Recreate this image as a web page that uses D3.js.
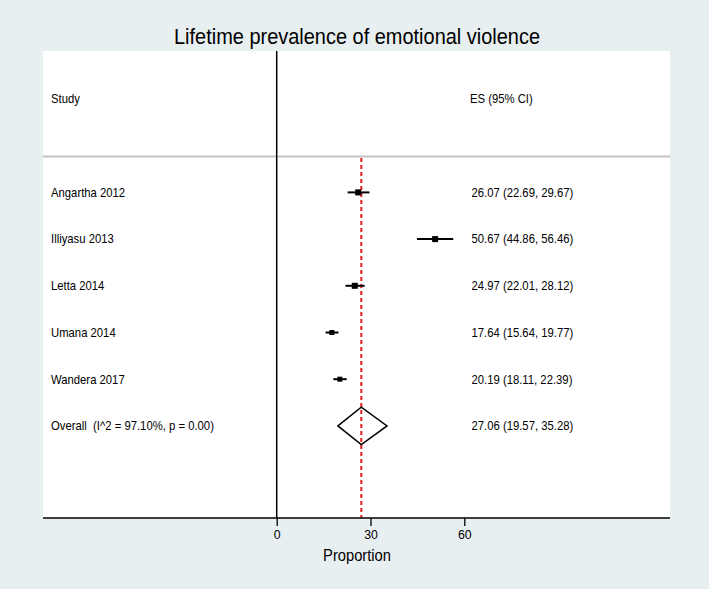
<!DOCTYPE html>
<html><head><meta charset="utf-8">
<script src="https://cdn.jsdelivr.net/npm/d3@7"></script>
<style>
html,body{margin:0;padding:0;background:#e8eff1;}
text{font-family:"Liberation Sans",Arial,Helvetica,sans-serif;fill:#000;white-space:pre;}
</style></head>
<body>
<svg id="chart" width="709" height="589"></svg>
<script>
const title = "Lifetime prevalence of emotional violence";
const studies = ["Angartha 2012","Illiyasu 2013","Letta 2014","Umana 2014","Wandera 2017"];
const es = [26.07, 50.67, 24.97, 17.64, 20.19];
const lo = [22.69, 44.86, 22.01, 15.64, 18.11];
const hi = [29.67, 56.46, 28.12, 19.77, 22.39];
const boxSize = [6, 6, 6, 5, 5];
const overallLabel = "Overall  (I^2 = 97.10%, p = 0.00)";
const overall = {es: 27.06, lo: 19.57, hi: 35.28};
const xTicks = [0, 30, 60];
const xLabel = "Proportion";

const svg = d3.select("#chart");
const W = 709, H = 589;
svg.append("rect").attr("width", W).attr("height", H).attr("fill", "#e8eff1");

const box = {l: 43, r: 670, t: 51, b: 518};
svg.append("rect").attr("x", box.l).attr("y", box.t)
  .attr("width", box.r - box.l).attr("height", box.b - box.t).attr("fill", "#fff");

const x = d3.scaleLinear().domain([0, 60]).range([276.7, 464.3]);
const y = d3.scaleLinear().domain([0, 1]).range([99, 145.7]); // row index -> px
const SX = 0.92;

function txt(str, px, py, size, anchor) {
  return svg.append("text")
    .attr("transform", `translate(${px},${py}) scale(${SX},1)`)
    .attr("dy", "0.35em")
    .attr("font-size", size)
    .attr("text-anchor", anchor || "start")
    .attr("xml:space", "preserve")
    .text(str);
}

// title
svg.append("text").attr("x", 357).attr("y", 44)
  .attr("font-size", 21.5).attr("text-anchor", "middle")
  .attr("textLength", 366).attr("lengthAdjust", "spacingAndGlyphs")
  .text(title);

// header
txt("Study", 51, y(0), 12.3);
txt("ES (95% CI)", 470, y(0), 12.3);
svg.append("line").attr("x1", box.l).attr("x2", box.r)
  .attr("y1", 156.5).attr("y2", 156.5)
  .attr("stroke", "#c4c4c4").attr("stroke-width", 2);

// null line at 0
svg.append("line").attr("x1", x(0)).attr("x2", x(0))
  .attr("y1", box.t).attr("y2", box.b)
  .attr("stroke", "#000").attr("stroke-width", 1.5);

// overall dashed line
svg.append("line").attr("x1", x(overall.es)).attr("x2", x(overall.es))
  .attr("y1", 158).attr("y2", box.b)
  .attr("stroke", "#e3201b").attr("stroke-width", 2)
  .attr("stroke-dasharray", "4,3");

// studies
studies.forEach((s, i) => {
  const yy = y(i + 2);
  txt(s, 51, yy, 12.3);
  txt(`${es[i].toFixed(2)} (${lo[i].toFixed(2)}, ${hi[i].toFixed(2)})`, 471.5, yy, 12.3);
  svg.append("line").attr("x1", x(lo[i])).attr("x2", x(hi[i]))
    .attr("y1", yy).attr("y2", yy).attr("stroke", "#000").attr("stroke-width", 2);
  const b = boxSize[i];
  svg.append("rect").attr("x", x(es[i]) - b / 2).attr("y", yy - b / 2)
    .attr("width", b).attr("height", b).attr("fill", "#000");
});

// overall
const yo = y(7);
txt(overallLabel, 51, yo, 12.3);
txt(`${overall.es.toFixed(2)} (${overall.lo.toFixed(2)}, ${overall.hi.toFixed(2)})`, 471.5, yo, 12.3);
const dh = 18.7;
svg.append("path")
  .attr("d", `M${x(overall.lo)},${yo} L${x(overall.es)},${yo - dh} L${x(overall.hi)},${yo} L${x(overall.es)},${yo + dh} Z`)
  .attr("fill", "none").attr("stroke", "#000").attr("stroke-width", 1.5);

// x axis
svg.append("line").attr("x1", box.l).attr("x2", box.r)
  .attr("y1", box.b).attr("y2", box.b).attr("stroke", "#000").attr("stroke-width", 1.6);
const ax = svg.append("g").attr("transform", `translate(0,${box.b})`)
  .call(d3.axisBottom(x).tickValues(xTicks).tickSize(8).tickPadding(4).tickFormat(d3.format("d")));
ax.select(".domain").remove();
ax.selectAll(".tick line").attr("stroke", "#000").attr("stroke-width", 1.3);
ax.selectAll(".tick text").attr("font-size", 12.3)
  .attr("font-family", '"Liberation Sans",Arial,sans-serif').attr("fill", "#000");

txt(xLabel, 357, 555, 16, "middle");
</script>
</body></html>
